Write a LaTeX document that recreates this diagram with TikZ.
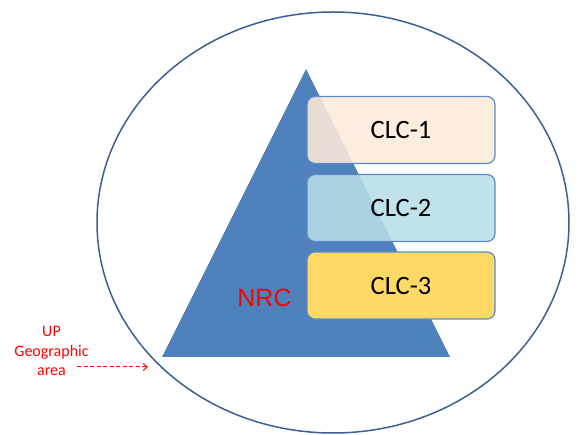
\documentclass[tikz,border=0pt]{standalone}
\usepackage{fontspec}
\setmainfont{Carlito}
\newfontfamily\arialfont{Liberation Sans}
\usetikzlibrary{shapes.geometric,arrows.meta}
\definecolor{nrcblue}{HTML}{4F81BD}
\definecolor{ringblue}{HTML}{3A6094}
\definecolor{peach}{HTML}{FDEADA}
\definecolor{lightcyan}{HTML}{B7DEE8}
\definecolor{gold}{HTML}{FFD966}
\definecolor{boxedge}{HTML}{5A8BC8}
\tikzset{
  clcbox/.style={draw=boxedge, line width=1.2pt, rounded corners=8pt,
    minimum width=188pt, minimum height=67pt, inner sep=0pt,
    font=\fontsize{26.5}{30}\selectfont},
  redlabel/.style={text=red, align=center, inner sep=0pt},
}
\begin{document}
\begin{tikzpicture}[x=1pt,y=-1pt]
\useasboundingbox (0,0) rectangle (579,435);
\node[ellipse, draw=ringblue, line width=1.5pt, minimum width=472pt, minimum height=421pt, inner sep=0pt] (region) at (333,222.5) {};
\fill[nrcblue] (306,69) -- (450,357) -- (162,357) -- cycle;
\node[clcbox, fill=peach, fill opacity=0.88, text opacity=1] (clc1) at (401,130) {CLC-1};
\node[clcbox, fill=lightcyan, fill opacity=0.87, text opacity=1] (clc2) at (401,208) {CLC-2};
\node[clcbox, fill=gold] (clc3) at (401,285.5) {CLC-3};
\node[redlabel, font=\arialfont\fontsize{25}{28}\selectfont] (nrc) at (264.5,298) {NRC};
\node[redlabel, font=\fontsize{16}{19.5}\selectfont] (up) at (51.5,351) {UP\\Geographic\\area};
\coordinate (tip) at (148,367);
\draw[red, line width=1pt, dash pattern=on 4pt off 2.5pt, -{Straight Barb[length=4pt,width=7pt]}] (77,367) -- (tip);
\end{tikzpicture}
\end{document}
